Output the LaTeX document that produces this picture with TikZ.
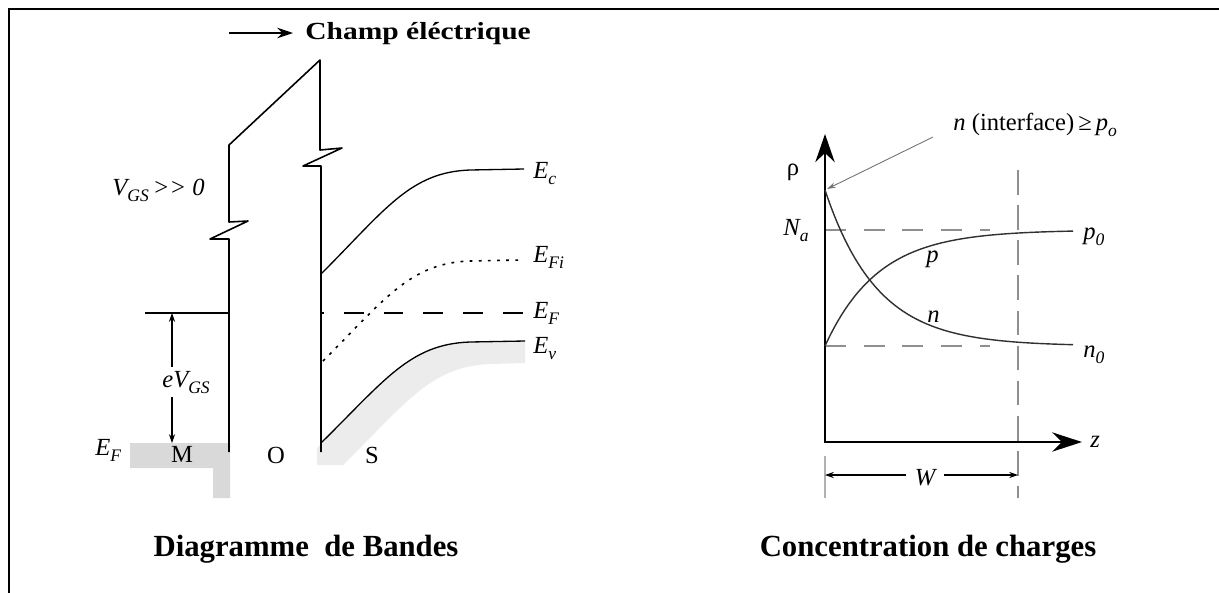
\documentclass[tikz,border=0pt]{standalone}
\usepackage{fontspec}
\setmainfont{Liberation Serif}
\usepackage{graphicx}
\usetikzlibrary{arrows.meta, positioning}
\definecolor{metalGray}{HTML}{D9D9D9}
\definecolor{bandGray}{HTML}{ECECEC}
\definecolor{guideGray}{HTML}{8F8F8F}
\definecolor{curveGray}{HTML}{303030}
\newcommand{\lo}[1]{\raisebox{-0.55ex}{\fontsize{10}{10}\selectfont\itshape #1}}

\begin{document}
\begin{tikzpicture}[
    x=0.02cm, y=-0.02cm,
    band/.style={line width=0.75pt},
    wall/.style={line width=0.9pt, line join=round},
    axes/.style={line width=1.3pt, {Stealth[length=16pt, width=11pt]}-{Stealth[length=17pt, width=11pt]}},
    guide/.style={guideGray, line width=0.8pt, dash pattern=on 12pt off 10pt},
    curve/.style={curveGray, line width=0.8pt},
    lbl/.style={font=\fontsize{14}{16}\selectfont\itshape, inner sep=0pt},
    tag/.style={font=\fontsize{14}{16}\selectfont, inner sep=0pt},
    caption/.style={font=\fontsize{17.5}{20}\selectfont\bfseries, inner sep=0pt},
    dim/.style={line width=0.6pt, {Stealth[length=5pt, width=3.5pt]}-{Stealth[length=5pt, width=3.5pt]}},
]
\useasboundingbox (0,0) rectangle (1219,592);

% Frame
\draw[line width=1.7pt] (9,600) -- (9,9) -- (1230,9);

% Band diagram: shaded regions
\fill[metalGray] (130,443) -- (230,443) -- (230,498) -- (213,498) -- (213,468) -- (130,468) -- cycle;
\fill[bandGray] (317,448) -- (322,443) .. controls +(64,-63) and +(-60,2) .. (470,342) -- (525,341)
    -- (525,363) -- (491,364) .. controls +(-60,2) and +(64,-63) .. (343,465) -- (317,465) -- cycle;

% Oxide barrier
\draw[wall] (229,452) -- (229,239) -- (210,239) -- (248,221) -- (229,222) -- (229,145)
    -- (320,60) -- (320,150) -- (342,148) -- (303,166) -- (321,166) -- (321,452);

% Bands
\draw[band] (321,274) .. controls +(64,-64) and +(-60,2) .. (470,170) -- (524,169);
\draw[band, line width=0.9pt, dash pattern=on 1.6pt off 3.6pt] (323,361) .. controls +(62,-62) and +(-60,2) .. (470,261) -- (520,260);
\draw[band, dash pattern=on 11.3pt off 11.3pt, dash phase=9.6pt] (321,313) -- (525,313);
\draw[band] (321,443) .. controls +(64,-63) and +(-60,2) .. (470,342) -- (525,341);
\draw[band] (145,313) -- (229,313);

% Labels
\node[font=\fontsize{14}{16}\selectfont\bfseries, inner sep=0pt, anchor=base west] (champ) at (305,39) {\scalebox{1.2}[1]{Champ éléctrique}};
\coordinate (fieldTail) at (229,33);
\coordinate (fieldHead) at (293,33);
\draw[line width=0.8pt, -{Stealth[length=9pt, width=6pt]}] (fieldTail) -- (fieldHead);

\node[lbl, anchor=base west] (vgs) at (112,195) {V\lo{GS}\,>{}> 0};
\node[lbl, anchor=base west] (efM) at (95,455) {E\lo{F}};
\node[tag, anchor=base] (lblM) at (182,462) {M};
\node[tag, anchor=base] (lblO) at (276,463) {O};
\node[tag, anchor=base] (lblS) at (372,463) {S};

\node[lbl, anchor=base west] (ec) at (533,178) {E\lo{c}};
\node[lbl, anchor=base west] (efi) at (533,262) {E\lo{Fi}};
\node[lbl, anchor=base west] (ef) at (533,318) {E\lo{F}};
\node[lbl, anchor=base west] (ev) at (533,353) {E\lo{v}};

\coordinate (vTop) at (172,313);
\coordinate (vBot) at (172,443);
\draw[dim] (vTop) -- (vBot);
\node[lbl, anchor=base west, fill=white, inner ysep=2pt] (evgs) at (162,387) {eV\lo{GS}};

% Charge concentration
\draw[guide] (825,230) -- (990,230);
\draw[guide] (825,346) -- (990,346);
\draw[guideGray, line width=0.9pt, dash pattern=on 14pt off 6pt] (1018,170) -- (1018,498);
\draw[guideGray!70, line width=1.2pt] (825,456) -- (825,498);

\draw[axes] (825,134) -- (825,442) -- (1082,442);
\draw[curve] plot[domain=0:248, samples=90] ({825+\x}, {230+116*exp(-\x/53)});
\draw[curve] plot[domain=0:248, samples=90] ({825+\x}, {346-156*exp(-\x/52)});

\node[tag, anchor=center] (rho) at (793,172) {ρ};
\node[lbl, anchor=base west] (na) at (783,235) {N\lo{a}};
\node[lbl, anchor=base west] (p0) at (1083,239) {p\lo{0}};
\node[lbl, anchor=base west] (n0) at (1083,357) {n\lo{0}};
\node[lbl, anchor=base west] (pLbl) at (926,262) {p};
\node[lbl, anchor=base west] (nLbl) at (927,322) {n};
\node[lbl, anchor=base west] (zLbl) at (1090,447) {z};

\node[tag, anchor=base west] (iface) at (953,130) {\textit{n} (interface)\,≥\,\textit{p}\lo{o}};
\coordinate (ptrStart) at (933,137);
\coordinate (nTop) at (827,189);
\draw[guideGray!80!black, line width=0.5pt, -{Stealth[length=5pt, width=3pt]}] (ptrStart) -- (nTop);

\coordinate (wL) at (825,475);
\coordinate (wR) at (1018,475);
\draw[dim] (wL) -- (wR);
\node[lbl, anchor=base, fill=white, inner xsep=5pt] (wLbl) at (925,485) {W};

% Captions
\node[caption, anchor=base] (capBands) at (306,556) {Diagramme\ \ de Bandes};
\node[caption, anchor=base] (capCharge) at (928,556) {Concentration de charges};

\end{tikzpicture}
\end{document}
